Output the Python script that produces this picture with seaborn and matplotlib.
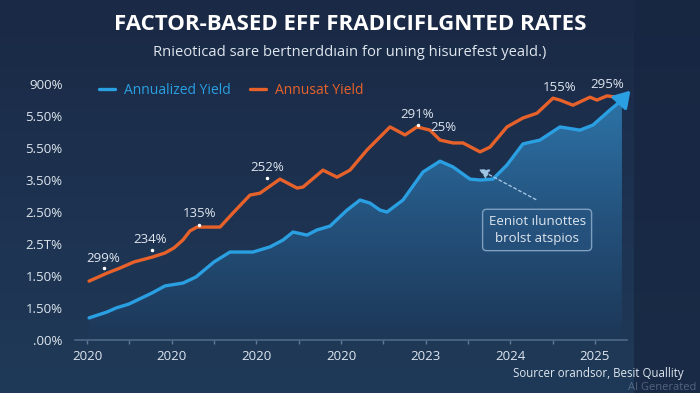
import numpy as np
import pandas as pd
import matplotlib
matplotlib.use("Agg")
import matplotlib.pyplot as plt
import seaborn as sns
from matplotlib.colors import LinearSegmentedColormap

# ---------------- data ----------------
x_tick_labels = ["2020", "2020", "2020", "2020", "2023", "2024", "2025"]
y_tick_labels = [".00%", "1.50%", "1.50%", "2.5T%", "2.50%", "3.50%", "5.50%", "5.50%", "900%"]

blue_x = [0.024, 0.236, 0.343, 0.496, 0.768, 0.921, 1.134, 1.287, 1.500, 1.689, 1.961, 2.161,
          2.315, 2.433, 2.598, 2.716, 2.870, 3.071, 3.224, 3.342, 3.461, 3.543, 3.732, 3.968,
          4.169, 4.323, 4.523, 4.642, 4.795, 4.960, 5.149, 5.350, 5.586, 5.823, 5.976, 6.177,
          6.318]
blue_y = [0.69, 0.875, 1.0, 1.125, 1.47, 1.69, 1.78, 1.97, 2.44, 2.75, 2.75, 2.91,
          3.125, 3.375, 3.28, 3.44, 3.56, 4.06, 4.375, 4.28, 4.06, 4.0, 4.375, 5.25,
          5.59, 5.41, 5.03, 5.0, 5.03, 5.47, 6.13, 6.25, 6.66, 6.56, 6.72, 7.19,
          7.5]

orange_x = [0.024, 0.236, 0.390, 0.555, 0.768, 0.921, 1.028, 1.134, 1.216, 1.299, 1.417, 1.571,
            1.724, 1.925, 2.043, 2.279, 2.480, 2.551, 2.787, 2.953, 3.106, 3.307, 3.579, 3.756,
            3.898, 4.051, 4.169, 4.323, 4.441, 4.642, 4.760, 4.960, 5.149, 5.315, 5.504, 5.586,
            5.740, 5.941, 6.023, 6.141, 6.260]
orange_y = [1.84, 2.09, 2.25, 2.44, 2.59, 2.72, 2.88, 3.13, 3.41, 3.53, 3.53, 3.53,
            3.97, 4.53, 4.59, 5.03, 4.75, 4.78, 5.31, 5.09, 5.31, 5.94, 6.66, 6.41,
            6.66, 6.56, 6.25, 6.16, 6.16, 5.88, 6.03, 6.66, 6.94, 7.09, 7.56, 7.5,
            7.34, 7.59, 7.5, 7.63, 7.59]

series_names = ["Annualized Yield", "Annusat Yield"]

ann_labels = ["299%", "234%", "135%", "252%", "291%", "25%", "155%", "295%"]
ann_x = [0.189, 0.744, 1.335, 2.126, 3.898, 4.205, 5.586, 6.141]
ann_y = [2.56, 3.13, 3.94, 5.38, 7.06, 6.63, 7.88, 8.00]
dot_x = [0.201, 0.768, 1.323, 2.126, 3.910, None, None, None]
dot_y = [2.25, 2.81, 3.59, 5.06, 6.72, None, None, None]

title = "FACTOR-BASED EFF FRADICIFLGNTED RATES"
subtitle = "Rnieoticad sare bertnerddıain for uning hisurefest yeald.)"
box_text = "Eeniot ılunottes\nbrolst atspios"
source_text = "Sourcer orandsor, Besit Quallity"
watermark = "AI Generated"

# ---------------- style ----------------
BG = "#1b2b48"
BLUE = "#2a9fe2"
ORANGE = "#e6622a"
TXT = "#dfe6ee"

sns.set_theme(style="dark")
plt.rcParams["font.family"] = ["Open Sans", "DejaVu Sans"]

fig = plt.figure(figsize=(7.0, 3.93), dpi=100, facecolor=BG)

# background gradient for the whole figure
bgax = fig.add_axes([0, 0, 1, 1], zorder=-10)
bg = np.linspace(0, 1, 256).reshape(-1, 1)
bgcmap = LinearSegmentedColormap.from_list("bg", ["#1a2945", "#1d3250", "#1f3a58"])
bgax.imshow(bg, aspect="auto", cmap=bgcmap, extent=[0, 1, 0, 1], origin="upper")
bgax.axvspan(0.905, 1.0, color="#172540", alpha=0.7, lw=0)
bgax.set_xlim(0, 1); bgax.set_ylim(0, 1)
bgax.axis("off")

ax = fig.add_axes([75 / 700, 53 / 393, 552 / 700, 270 / 393])
ax.set_facecolor("none")
ax.patch.set_alpha(0)

df = pd.concat([
    pd.DataFrame({"t": blue_x, "v": blue_y, "s": series_names[0]}),
    pd.DataFrame({"t": orange_x, "v": orange_y, "s": series_names[1]}),
])

XMIN, XMAX = -0.142, 6.378
YMIN, YMAX = 0.0, 8.44

# gradient fill under blue line
poly = ax.fill_between(blue_x, blue_y, 0, color="none", lw=0)
fillcmap = LinearSegmentedColormap.from_list("fill", ["#1d3757", "#24527d", "#2d74a8"])
grad = np.linspace(0, 1, 256).reshape(-1, 1)
im = ax.imshow(grad, aspect="auto", cmap=fillcmap, extent=[XMIN, XMAX, 0, 7.6],
               origin="lower", zorder=1)
im.set_clip_path(poly.get_paths()[0], transform=ax.transData)

sns.lineplot(data=df, x="t", y="v", hue="s", palette=[BLUE, ORANGE], ax=ax,
             lw=2.4, zorder=3, sort=False, legend=True)
for ln in ax.lines:
    ln.set_solid_capstyle("round")
    ln.set_solid_joinstyle("round")

# arrow head at end of blue line
ax.annotate("", xy=(6.44, 7.86), xytext=(6.30, 7.45),
            arrowprops=dict(arrowstyle="-|>,head_length=0.8,head_width=0.5",
                            color=BLUE, lw=2.4), zorder=4, annotation_clip=False)

ax.set_xlim(XMIN, XMAX)
ax.set_ylim(YMIN, YMAX)

ax.set_xticks(range(len(x_tick_labels)))
ax.set_xticklabels(x_tick_labels)
ax.set_xticks(np.arange(0.5, 6.5, 1.0), minor=True)
ax.set_yticks(range(len(y_tick_labels)))
ax.set_yticklabels(y_tick_labels)
ax.tick_params(axis="x", colors="#5f7896", labelcolor=TXT, labelsize=9.5, length=3,
               width=1, pad=4, which="both", bottom=True)
ax.tick_params(axis="y", labelcolor=TXT, labelsize=9.5, length=0, pad=9)
ax.set_xlabel(""); ax.set_ylabel("")
ax.grid(False)
for side in ["top", "right", "left"]:
    ax.spines[side].set_visible(False)
ax.spines["bottom"].set_color("#4f6887")
ax.spines["bottom"].set_linewidth(1.2)

leg = ax.legend(loc="upper left", bbox_to_anchor=(0.02, 1.0), ncol=2, frameon=False,
                fontsize=10, labelcolor="linecolor", handlelength=1.2, handletextpad=0.6,
                columnspacing=1.4)
for h in leg.get_lines():
    h.set_linewidth(2.4)

# value annotations
for lab, tx, ty, dx, dy in zip(ann_labels, ann_x, ann_y, dot_x, dot_y):
    ax.text(tx, ty, lab, color=TXT, fontsize=9.5, ha="center", va="center", zorder=5)
    if dx is not None:
        ax.plot([dx], [dy], marker="o", ms=1.5, color="white", zorder=5)

# callout box and dashed arrow
ax.annotate("", xy=(4.60, 5.38), xytext=(5.33, 4.35),
            arrowprops=dict(arrowstyle="-|>,head_length=0.5,head_width=0.25",
                            color="#9fc4e4", lw=1.0, linestyle=(0, (2, 2))), zorder=5)
ax.text(5.316, 3.44, box_text, color=TXT, fontsize=9.5, ha="center", va="center",
        linespacing=1.35, zorder=6,
        bbox=dict(boxstyle="round,pad=0.45,rounding_size=0.3", fc=(0.2, 0.4, 0.6, 0.15),
                  ec="#7f9fbf", lw=1.0))

# titles and footer
fig.text(0.5, 1 - 25 / 393, title, color="white", fontsize=16, fontweight="bold",
         ha="center", va="center")
fig.text(0.5, 1 - 53 / 393, subtitle, color=TXT, fontsize=10.6, ha="center", va="center")
fig.text(684 / 700, 1 - 374 / 393, source_text, color=TXT, fontsize=8.3, ha="right",
         va="center")
fig.text(696 / 700, 1 - 387 / 393, watermark, color="#6b7c92", fontsize=8,
         ha="right", va="center", alpha=0.7)

fig.savefig("out.png", dpi=100, facecolor=BG)
